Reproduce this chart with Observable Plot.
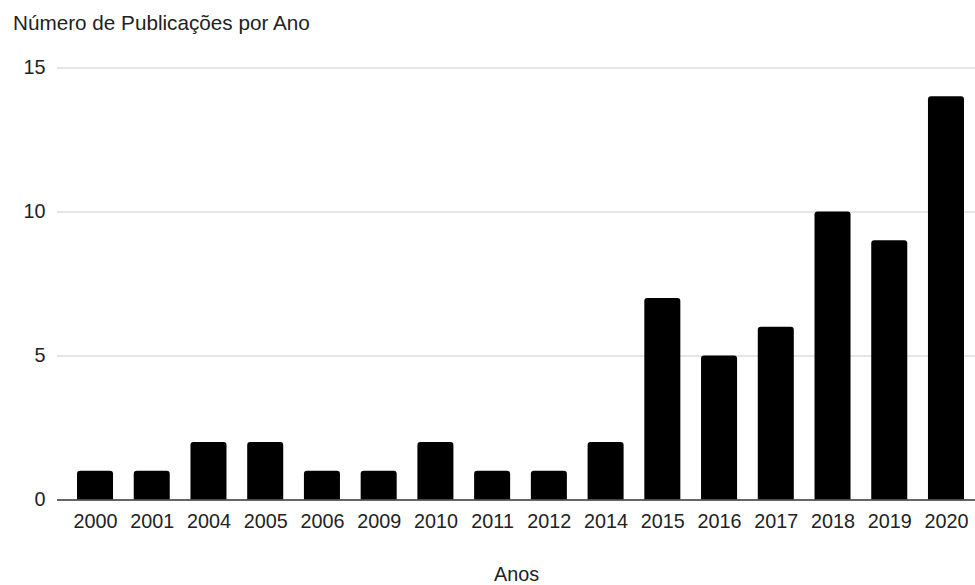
<!DOCTYPE html>
<html>
<head>
<meta charset="utf-8">
<script src="https://cdn.jsdelivr.net/npm/d3@7"></script>
<script src="https://cdn.jsdelivr.net/npm/@observablehq/plot@0.6"></script>
<style>
  html, body { margin: 0; padding: 0; background: #fff; }
  svg { display: block; }
</style>
</head>
<body>
<div id="chart"></div>
<script>
const years = ["2000","2001","2004","2005","2006","2009","2010","2011","2012","2014","2015","2016","2017","2018","2019","2020"];
const counts = [1,1,2,2,1,1,2,1,1,2,7,5,6,10,9,14];
const yTicks = [0,5,10,15];
const title = "Número de Publicações por Ano";
const xLabel = "Anos";

const data = years.map((y, i) => ({year: y, n: counts[i]}));
const font = "'Liberation Sans', Arial, sans-serif";

const chart = Plot.plot({
  width: 975,
  height: 585,
  marginTop: 67.5,
  marginBottom: 85.5,
  marginLeft: 57,
  marginRight: 0,
  style: {fontFamily: font, fontSize: "19.8px", color: "#222", background: "#fff"},
  x: {type: "band", domain: years, paddingInner: 0.365, paddingOuter: 0.194, insetLeft: 9, round: false},
  y: {domain: [0, 15]},
  marks: [
    Plot.ruleY(yTicks.filter(t => t > 0), {stroke: "#cccccc", strokeWidth: 1}),
    Plot.barY(data, {x: "year", y1: -0.3, y2: "n", fill: "#000", rx: 3, clip: true}),
    Plot.ruleY([0], {stroke: "#333", strokeWidth: 1.5}),
    Plot.axisY({ticks: yTicks, tickSize: 0, tickPadding: 12, label: null, fontSize: 19.8, fill: "#222"}),
    Plot.axisX({tickSize: 0, tickPadding: 14, label: xLabel, labelAnchor: "center", labelArrow: "none", labelOffset: 81, fontSize: 19.8, fill: "#222"}),
    Plot.text([title], {frameAnchor: "top-left", dx: -44.5, dy: -44.5, textAnchor: "start", lineAnchor: "middle", fontSize: 20.7, fill: "#222"})
  ]
});
document.getElementById("chart").appendChild(chart);
</script>
</body>
</html>
